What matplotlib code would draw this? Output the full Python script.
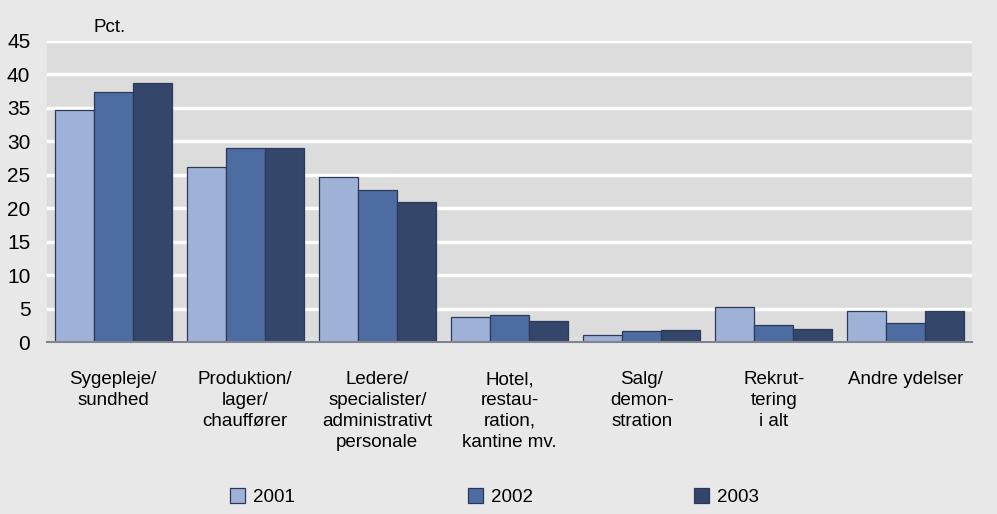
import matplotlib.pyplot as plt
import numpy as np

categories = ['Sygepleje/\nsundhed', 'Produktion/\nlager/\nchauffører', 'Ledere/\nspecialister/\nadministrativt\npersonale',
              'Hotel,\nrestau-\nration,\nkantine mv.', 'Salg/\ndemon-\nstration', 'Rekrut-\ntering\ni alt', 'Andre ydelser']
years = ['2001', '2002', '2003']
v2001 = [34.7, 26.2, 24.7, 3.7, 1.0, 5.3, 4.7]
v2002 = [37.4, 29.0, 22.7, 4.0, 1.6, 2.6, 2.8]
v2003 = [38.7, 29.0, 20.9, 3.1, 1.8, 1.9, 4.7]
yticks = [0, 5, 10, 15, 20, 25, 30, 35, 40, 45]

colors = ['#9fb1d6', '#4d6ca2', '#34466a']

plt.rcParams['font.family'] = ['Liberation Sans', 'DejaVu Sans']

fig = plt.figure(figsize=(9.97, 5.14), dpi=100, facecolor='#e8e8e8')
ax = fig.add_axes([47/997, 1-342/514, 925/997, 301/514])
ax.set_facecolor('#dcdcdc')

x = np.arange(len(categories))
w = 0.295
for i, vals in enumerate([v2001, v2002, v2003]):
	ax.bar(x + (i-1)*w, vals, w, color=colors[i], edgecolor='#2b3a5a', linewidth=0.9,
	       label=years[i], zorder=3)

ax.set_ylim(0, 45)
ax.set_xlim(-0.5, len(categories)-0.5)
ax.set_yticks(yticks)
ax.yaxis.grid(True, color='white', linewidth=2.5, zorder=1)
ax.set_axisbelow(True)
for s in ['top', 'right', 'left']:
	ax.spines[s].set_visible(False)
ax.spines['bottom'].set_color('#7f8590')
ax.spines['bottom'].set_linewidth(1.5)
ax.spines['bottom'].set_zorder(4)
ax.tick_params(axis='both', length=0, labelsize=13.5)
ax.tick_params(axis='y', pad=12, labelsize=15)
ax.set_xticks(x)
ax.set_xticklabels(categories, linespacing=1.3, va='top')
ax.tick_params(axis='x', pad=21)

fig.text(93/997, 1-28/514, 'Pct.', fontsize=13.5, va='center')

handles = [plt.Rectangle((0, 0), 1, 1, facecolor=c, edgecolor='#2b3a5a', linewidth=0.9) for c in colors]
for h, yr, px in zip(handles, years, [230, 468, 694]):
	fig.legend([h], [yr], loc='center left', bbox_to_anchor=(px/997, 1-497/514), frameon=False,
	           fontsize=13.5, handlelength=0.8, handleheight=0.8, handletextpad=0.4, borderpad=0, borderaxespad=0)

fig.savefig('out.png', dpi=100, facecolor=fig.get_facecolor())
